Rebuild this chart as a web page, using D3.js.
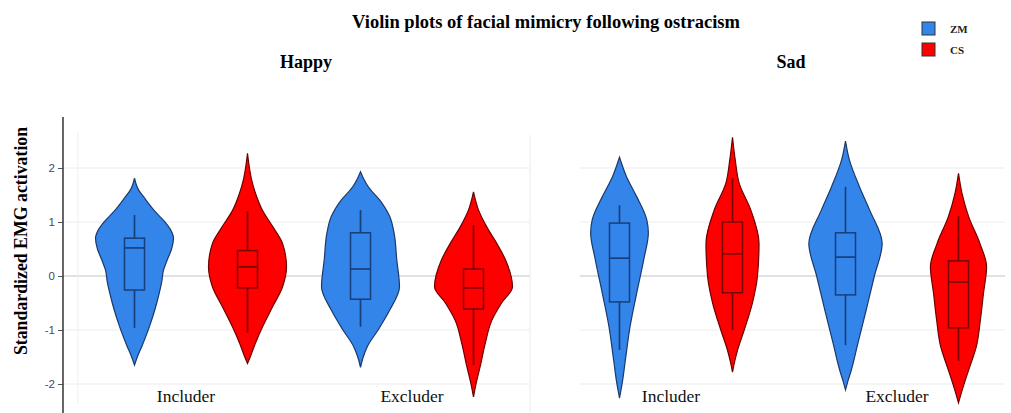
<!DOCTYPE html>
<html>
<head>
<meta charset="utf-8">
<script src="https://cdn.jsdelivr.net/npm/d3@7"></script>
<style>
  body { margin: 0; background: white; }
</style>
</head>
<body>
<div id="chart"></div>
<script>
// categories
const facets = ["Happy", "Sad"];
const groups = ["Includer", "Excluder"];
const conditions = ["ZM", "CS"];
const yTicks = [-2, -1, 0, 1, 2];

// violin outlines: [value, relative density]
const happyIncluderZM = [[1.81,0],[1.6,0.1],[1.45,0.25],[1.2,0.52],[1.0,0.78],[0.85,0.93],[0.7,1.0],[0.5,0.95],[0.3,0.84],[0.1,0.74],[-0.1,0.7],[-0.3,0.64],[-0.5,0.57],[-0.7,0.49],[-0.9,0.4],[-1.1,0.3],[-1.3,0.19],[-1.45,0.1],[-1.65,0]];
const happyIncluderCS = [[2.27,0],[2.0,0.05],[1.8,0.1],[1.5,0.22],[1.22,0.38],[0.9,0.66],[0.6,0.9],[0.17,1.0],[-0.2,0.9],[-0.6,0.62],[-0.95,0.38],[-1.25,0.2],[-1.48,0.08],[-1.62,0]];
const happyExcluderZM = [[1.93,0],[1.8,0.08],[1.65,0.2],[1.4,0.5],[1.1,0.75],[0.8,0.86],[0.3,0.93],[-0.2,1.0],[-0.63,0.75],[-1.0,0.45],[-1.3,0.18],[-1.5,0.07],[-1.69,0]];
const happyExcluderCS = [[1.56,0],[1.22,0.13],[0.91,0.34],[0.6,0.6],[0.3,0.82],[-0.2,1.0],[-0.5,0.72],[-0.82,0.47],[-1.25,0.3],[-1.68,0.17],[-1.98,0.07],[-2.24,0]];
const sadIncluderZM = [[2.2,0],[1.84,0.18],[1.47,0.44],[1.04,0.7],[0.8,0.74],[0.3,0.62],[-0.32,0.44],[-0.94,0.27],[-1.56,0.15],[-1.98,0.07],[-2.26,0]];
const sadIncluderCS = [[2.57,0],[2.15,0.07],[1.72,0.17],[1.22,0.47],[0.6,0.68],[0,0.64],[-0.5,0.51],[-1.0,0.3],[-1.37,0.13],[-1.6,0.05],[-1.78,0]];
const sadExcluderZM = [[2.5,0],[2.15,0.1],[1.65,0.36],[1.22,0.62],[0.6,0.94],[0,0.74],[-0.63,0.53],[-1.24,0.32],[-1.74,0.15],[-1.95,0.06],[-2.11,0]];
const sadExcluderCS = [[1.9,0],[1.53,0.09],[1.1,0.26],[0.6,0.55],[0.17,0.72],[-0.32,0.64],[-0.82,0.56],[-1.3,0.46],[-1.74,0.26],[-2.1,0.1],[-2.35,0]];

// box stats: [lower whisker, q1, median, q3, upper whisker]
const happyIncluderZMBox = [-0.96, -0.26, 0.52, 0.70, 1.13];
const happyIncluderCSBox = [-1.05, -0.22, 0.17, 0.47, 1.2];
const happyExcluderZMBox = [-0.94, -0.43, 0.13, 0.8, 1.22];
const happyExcluderCSBox = [-1.65, -0.61, -0.22, 0.13, 0.94];
const sadIncluderZMBox = [-1.37, -0.48, 0.33, 0.98, 1.31];
const sadIncluderCSBox = [-1.0, -0.31, 0.41, 1.0, 1.81];
const sadExcluderZMBox = [-1.28, -0.35, 0.35, 0.8, 1.65];
const sadExcluderCSBox = [-1.57, -0.96, -0.11, 0.28, 1.11];

const violins = [
  { facet: "Happy", group: "Includer", cond: "ZM", dens: happyIncluderZM, box: happyIncluderZMBox },
  { facet: "Happy", group: "Includer", cond: "CS", dens: happyIncluderCS, box: happyIncluderCSBox },
  { facet: "Happy", group: "Excluder", cond: "ZM", dens: happyExcluderZM, box: happyExcluderZMBox },
  { facet: "Happy", group: "Excluder", cond: "CS", dens: happyExcluderCS, box: happyExcluderCSBox },
  { facet: "Sad", group: "Includer", cond: "ZM", dens: sadIncluderZM, box: sadIncluderZMBox },
  { facet: "Sad", group: "Includer", cond: "CS", dens: sadIncluderCS, box: sadIncluderCSBox },
  { facet: "Sad", group: "Excluder", cond: "ZM", dens: sadExcluderZM, box: sadExcluderZMBox },
  { facet: "Sad", group: "Excluder", cond: "CS", dens: sadExcluderCS, box: sadExcluderCSBox },
];

const width = 1011;
const height = 413;
const serif = "'Liberation Serif', 'Times New Roman', serif";

const fill = { ZM: "#3385ea", CS: "#ff0000" };
const edge = { ZM: "#1b3a6b", CS: "#6e0000" };
const boxLine = { ZM: "#173f7c", CS: "#7a0505" };

// panel layout
const panels = {
  Happy: { range: [78, 530], grid: [65, 530], titleX: 306 },
  Sad: { range: [563, 1015], grid: [580, 1005], titleX: 791 },
};

const svg = d3.select("#chart")
  .append("svg")
  .attr("width", width)
  .attr("height", height)
  .style("background-color", "white");

const y = d3.scaleLinear().domain([-2, 2]).range([384, 168]);
const w = d3.scaleLinear().domain([0, 1]).range([0, 39]);

function xScale(facet, group) {
  const band = d3.scaleBand().domain(groups).range(panels[facet].range);
  return d3.scalePoint()
    .domain(conditions)
    .range([band(group), band(group) + band.bandwidth()])
    .padding(0.5);
}

// grid
facets.forEach((f) => {
  const p = panels[f];
  const gg = svg.append("g");
  gg.selectAll("line.grid")
    .data(yTicks.filter((t) => t !== 0))
    .enter()
    .append("line")
    .attr("x1", p.grid[0])
    .attr("x2", p.grid[1])
    .attr("y1", (d) => y(d))
    .attr("y2", (d) => y(d))
    .attr("stroke", "#ececec")
    .attr("stroke-width", 1);
  gg.append("line")
    .attr("x1", f === "Happy" ? 63 : p.grid[0])
    .attr("x2", p.grid[1])
    .attr("y1", y(0))
    .attr("y2", y(0))
    .attr("stroke", "#c4c4c4")
    .attr("stroke-width", 1.2);
});

// faint panel borders
svg.append("line")
  .attr("x1", 78).attr("x2", 78)
  .attr("y1", 132).attr("y2", 403)
  .attr("stroke", "#efefef");
svg.append("line")
  .attr("x1", 530).attr("x2", 530)
  .attr("y1", 135).attr("y2", 413)
  .attr("stroke", "#ececec");

// violins
const area = d3.area()
  .curve(d3.curveMonotoneY);

const vg = svg.append("g");
violins.forEach((v) => {
  const cx = xScale(v.facet, v.group)(v.cond);
  const g = vg.append("g");

  // monotoneY wants increasing y, so walk bottom to top
  const pts = v.dens.slice().reverse();

  g.append("path")
    .datum(pts)
    .attr("d", area
      .y((d) => y(d[0]))
      .x0((d) => cx - w(d[1]))
      .x1((d) => cx + w(d[1])))
    .attr("fill", fill[v.cond])
    .attr("stroke", edge[v.cond])
    .attr("stroke-width", 1.2);

  const [lo, q1, med, q3, hi] = v.box;
  const bw = 20;
  g.append("line")
    .attr("x1", cx).attr("x2", cx)
    .attr("y1", y(hi)).attr("y2", y(q3))
    .attr("stroke", boxLine[v.cond]).attr("stroke-width", 1.7);
  g.append("line")
    .attr("x1", cx).attr("x2", cx)
    .attr("y1", y(q1)).attr("y2", y(lo))
    .attr("stroke", boxLine[v.cond]).attr("stroke-width", 1.7);
  g.append("rect")
    .attr("x", cx - bw / 2)
    .attr("y", y(q3))
    .attr("width", bw)
    .attr("height", y(q1) - y(q3))
    .attr("fill", "none")
    .attr("stroke", boxLine[v.cond])
    .attr("stroke-width", 1.5);
  g.append("line")
    .attr("x1", cx - bw / 2).attr("x2", cx + bw / 2)
    .attr("y1", y(med)).attr("y2", y(med))
    .attr("stroke", boxLine[v.cond]).attr("stroke-width", 1.7);
});

// y axis
const axis = svg.append("g")
  .attr("transform", "translate(63,0)")
  .call(d3.axisLeft(y).tickValues(yTicks).tickSize(5).tickPadding(3).tickFormat((d) => String(d)));
axis.select(".domain").remove();
axis.selectAll(".tick line").attr("stroke", "#555");
axis.selectAll(".tick text")
  .attr("fill", "#4a4a4a")
  .style("font", "11.5px 'Liberation Sans', Arial, sans-serif");
svg.append("line")
  .attr("x1", 63).attr("x2", 63)
  .attr("y1", 117).attr("y2", 413)
  .attr("stroke", "#333")
  .attr("stroke-width", 1.5);

svg.append("text")
  .attr("transform", "translate(27,241) rotate(-90)")
  .attr("text-anchor", "middle")
  .style("font", `bold 17.8px ${serif}`)
  .text("Standardized EMG activation");

// category labels
facets.forEach((f) => {
  groups.forEach((gname) => {
    const xs = xScale(f, gname);
    const mid = (xs("ZM") + xs("CS")) / 2;
    svg.append("text")
      .attr("x", mid - 5)
      .attr("y", 402)
      .attr("text-anchor", "middle")
      .style("font", `17.5px ${serif}`)
      .attr("fill", "#111")
      .text(gname);
  });
  svg.append("text")
    .attr("x", panels[f].titleX)
    .attr("y", 68)
    .attr("text-anchor", "middle")
    .style("font", `bold 18px ${serif}`)
    .text(f);
});

// title
svg.append("text")
  .attr("x", 546)
  .attr("y", 28)
  .attr("text-anchor", "middle")
  .style("font", `bold 18.5px ${serif}`)
  .text("Violin plots of facial mimicry following ostracism");

// legend
const legend = svg.append("g").attr("transform", "translate(922,22)");
conditions.forEach((c, i) => {
  legend.append("rect")
    .attr("x", 0)
    .attr("y", i * 21)
    .attr("width", 13)
    .attr("height", 13)
    .attr("fill", fill[c])
    .attr("stroke", "#333")
    .attr("stroke-width", 1);
  legend.append("text")
    .attr("x", 28)
    .attr("y", i * 21 + 11)
    .style("font", `bold 11px ${serif}`)
    .attr("fill", "#222")
    .text(c);
});
</script>
</body>
</html>
